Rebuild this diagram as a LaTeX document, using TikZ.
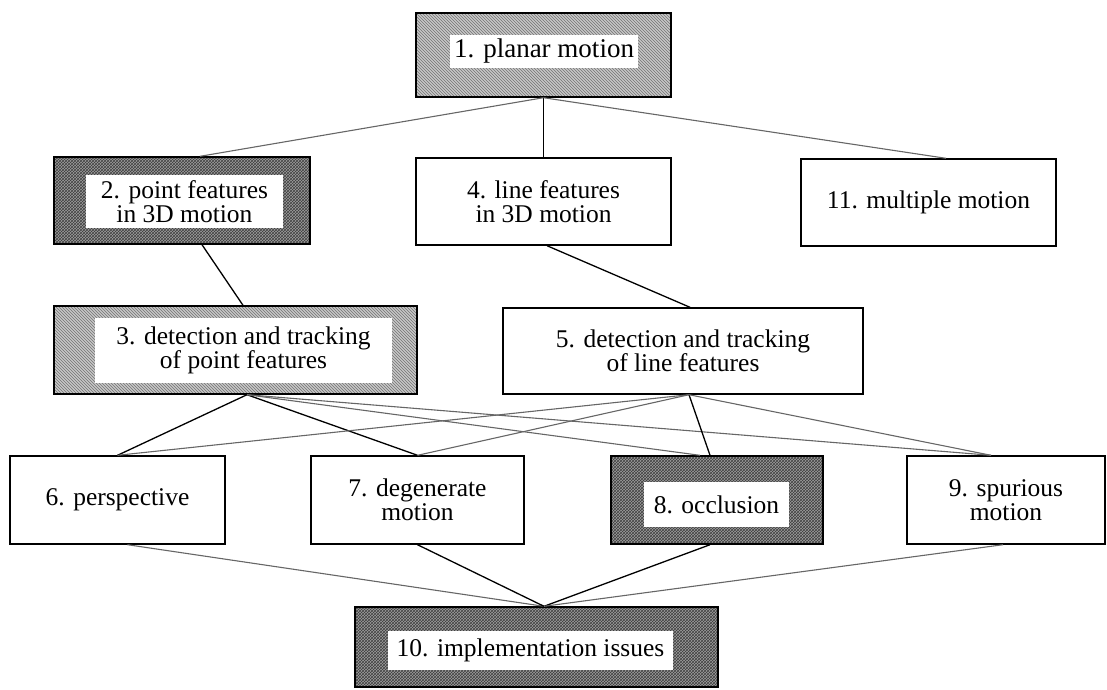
\documentclass[tikz,border=0pt]{standalone}
\usepackage{fontspec}
\setmainfont{Liberation Serif}
\usetikzlibrary{patterns}

\begin{document}
\begin{tikzpicture}[
  x=1pt, y=-1pt,
  box/.style={draw, line width=1.4pt, inner sep=0pt, align=center, font=\fontsize{25.5}{24}\selectfont},
  lbox/.style={box, preaction={fill=black!22}, pattern=north west lines, pattern color=black!55},
  dbox/.style={box, preaction={fill=black!38}, pattern=crosshatch, pattern color=black!75},
  tag/.style={fill=white, inner sep=0pt, align=center, font=\fontsize{25.5}{24}\selectfont},
  link/.style={line width=1.3pt},
  flink/.style={line width=1.1pt, black!60}
]
  \useasboundingbox (0,0) rectangle (1107,689);
  \node[lbox, minimum width=255, minimum height=84] (n1) at (543.5,55) {};
  \node[tag, minimum width=188, minimum height=33, font=\fontsize{27}{24}\selectfont] (n1t) at (544,51.5) {1. planar motion};
  \node[dbox, minimum width=256, minimum height=87] (n2) at (182,200.5) {};
  \node[tag, minimum width=197, minimum height=53] (n2t) at (184.5,201.5) {2. point features\\in 3D motion};
  \node[box, minimum width=255, minimum height=87] (n4) at (543.5,201.5) {4. line features\\in 3D motion};
  \node[box, minimum width=255, minimum height=87] (n11) at (928.5,202.5) {11. multiple motion};
  \node[lbox, minimum width=363, minimum height=88] (n3) at (235.5,350) {};
  \node[tag, minimum width=297, minimum height=65] (n3t) at (243.5,350.5) {3. detection and tracking\\of point features};
  \node[box, minimum width=360, minimum height=86] (n5) at (683,351) {5. detection and tracking\\of line features};
  \node[box, minimum width=215, minimum height=88] (n6) at (117.5,500) {6. perspective};
  \node[box, minimum width=213, minimum height=88] (n7) at (417.5,500) {7. degenerate\\motion};
  \node[dbox, minimum width=212, minimum height=88] (n8) at (717,500) {};
  \node[tag, minimum width=145, minimum height=45] (n8t) at (716.5,504.5) {8. occlusion};
  \node[box, minimum width=198, minimum height=88] (n9) at (1006,500) {9. spurious\\motion};
  \node[dbox, minimum width=363, minimum height=80] (n10) at (536.5,647) {};
  \node[tag, minimum width=285, minimum height=39] (n10t) at (530.5,650.5) {10. implementation issues};
  % top level
  \draw[flink] (n1.south) -- ([xshift=18pt]n2.north);
  \draw[link] (n1.south) -- (n4.north);
  \draw[flink] (n1.south) -- ([xshift=17.5pt]n11.north);
  \draw[link] ([xshift=20pt]n2.south) -- ([xshift=7.5pt]n3.north);
  \draw[link] ([xshift=3.5pt]n4.south) -- ([xshift=7pt]n5.north);
  % trackers to problems
  \draw[link] ([xshift=11.5pt]n3.south) -- (n6.north);
  \draw[link] ([xshift=11.5pt]n3.south) -- (n7.north);
  \draw[flink] ([xshift=11.5pt]n3.south) -- ([xshift=-17pt]n8.north);
  \draw[flink] ([xshift=11.5pt]n3.south) -- ([xshift=-15pt]n9.north);
  \draw[flink] ([xshift=6pt]n5.south) -- (n6.north);
  \draw[flink] ([xshift=6pt]n5.south) -- (n7.north);
  \draw[link] ([xshift=6pt]n5.south) -- ([xshift=-7pt]n8.north);
  \draw[flink] ([xshift=6pt]n5.south) -- ([xshift=-15pt]n9.north);
  % problems to implementation
  \draw[flink] ([xshift=10pt]n6.south) -- ([xshift=7.5pt]n10.north);
  \draw[link] (n7.south) -- ([xshift=7.5pt]n10.north);
  \draw[link] ([xshift=-7pt]n8.south) -- ([xshift=7.5pt]n10.north);
  \draw[flink] ([xshift=-3pt]n9.south) -- ([xshift=7.5pt]n10.north);
\end{tikzpicture}
\end{document}
